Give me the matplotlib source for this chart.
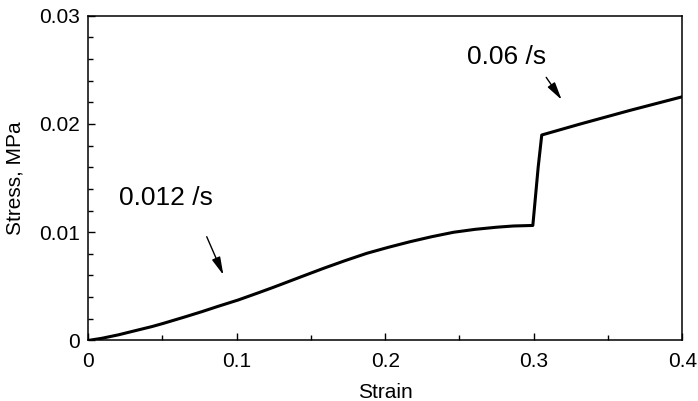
import matplotlib
matplotlib.use("Agg")
import matplotlib.pyplot as plt
from matplotlib.ticker import MultipleLocator, FixedFormatter, FixedLocator

plt.rcParams['font.family'] = ['Liberation Sans', 'DejaVu Sans']

# Data
strain = [0.0, 0.0092, 0.0204, 0.0316, 0.0429, 0.0507, 0.0653, 0.0766, 0.0877,
          0.1011, 0.1146, 0.1236, 0.1300, 0.1438, 0.1585, 0.1730, 0.1877,
          0.2021, 0.2168, 0.2313, 0.2460, 0.2605, 0.2753, 0.2863, 0.2994,
          0.3030, 0.3054, 0.3312, 0.3650, 0.4000]
stress = [0.0, 0.00020, 0.00052, 0.00090, 0.00128, 0.00158, 0.00218, 0.00266, 0.00316,
          0.00374, 0.00440, 0.00485, 0.00518, 0.00590, 0.00666, 0.00737, 0.00805,
          0.00860, 0.00912, 0.00958, 0.00999, 0.01026, 0.01046, 0.01057, 0.01062,
          0.01600, 0.01897, 0.01998, 0.02125, 0.02250]

xticks = [0, 0.1, 0.2, 0.3, 0.4]
xticklabels = ["0", "0.1", "0.2", "0.3", "0.4"]
yticks = [0, 0.01, 0.02, 0.03]
yticklabels = ["0", "0.01", "0.02", "0.03"]

rate_labels = ["0.012 /s", "0.06 /s"]
label_pos = [(0.0209, 0.01313), (0.2553, 0.0262)]
arrow_from = [(0.0799, 0.00958), (0.3084, 0.02429)]
arrow_to = [(0.0911, 0.00605), (0.3188, 0.02222)]

fig = plt.figure(figsize=(6.98, 4.01), dpi=100)
ax = fig.add_axes([0.1261, 0.1509, 0.9775 - 0.1261, 0.9613 - 0.1509])

ax.plot(strain, stress, color='black', lw=2.2, solid_joinstyle='round')

ax.set_xlim(0, 0.4)
ax.set_ylim(0, 0.03)
ax.xaxis.set_major_locator(FixedLocator(xticks))
ax.xaxis.set_major_formatter(FixedFormatter(xticklabels))
ax.yaxis.set_major_locator(FixedLocator(yticks))
ax.yaxis.set_major_formatter(FixedFormatter(yticklabels))
ax.xaxis.set_minor_locator(MultipleLocator(0.05))
ax.yaxis.set_minor_locator(MultipleLocator(0.002))

ax.tick_params(which='both', direction='in', top=False, right=False,
               width=1.0, labelsize=15)
ax.tick_params(axis='x', which='major', pad=8)
ax.tick_params(axis='y', which='major', pad=6)
ax.tick_params(which='major', length=5)
ax.tick_params(which='minor', length=3.8)
for s in ax.spines.values():
    s.set_linewidth(1.1)

ax.set_xlabel("Strain", fontsize=15, labelpad=9)
ax.set_ylabel("Stress, MPa", fontsize=15, labelpad=10)

for txt, (tx, ty), a0, a1 in zip(rate_labels, label_pos, arrow_from, arrow_to):
    ax.text(tx, ty, txt, fontsize=19, ha='left', va='center')
    ax.annotate("", xy=a1, xytext=a0,
                arrowprops=dict(arrowstyle='-|>,head_length=0.9,head_width=0.22',
                                lw=1.0, color='black', shrinkA=0, shrinkB=0,
                                mutation_scale=12))

fig.savefig("out.png", dpi=100)
